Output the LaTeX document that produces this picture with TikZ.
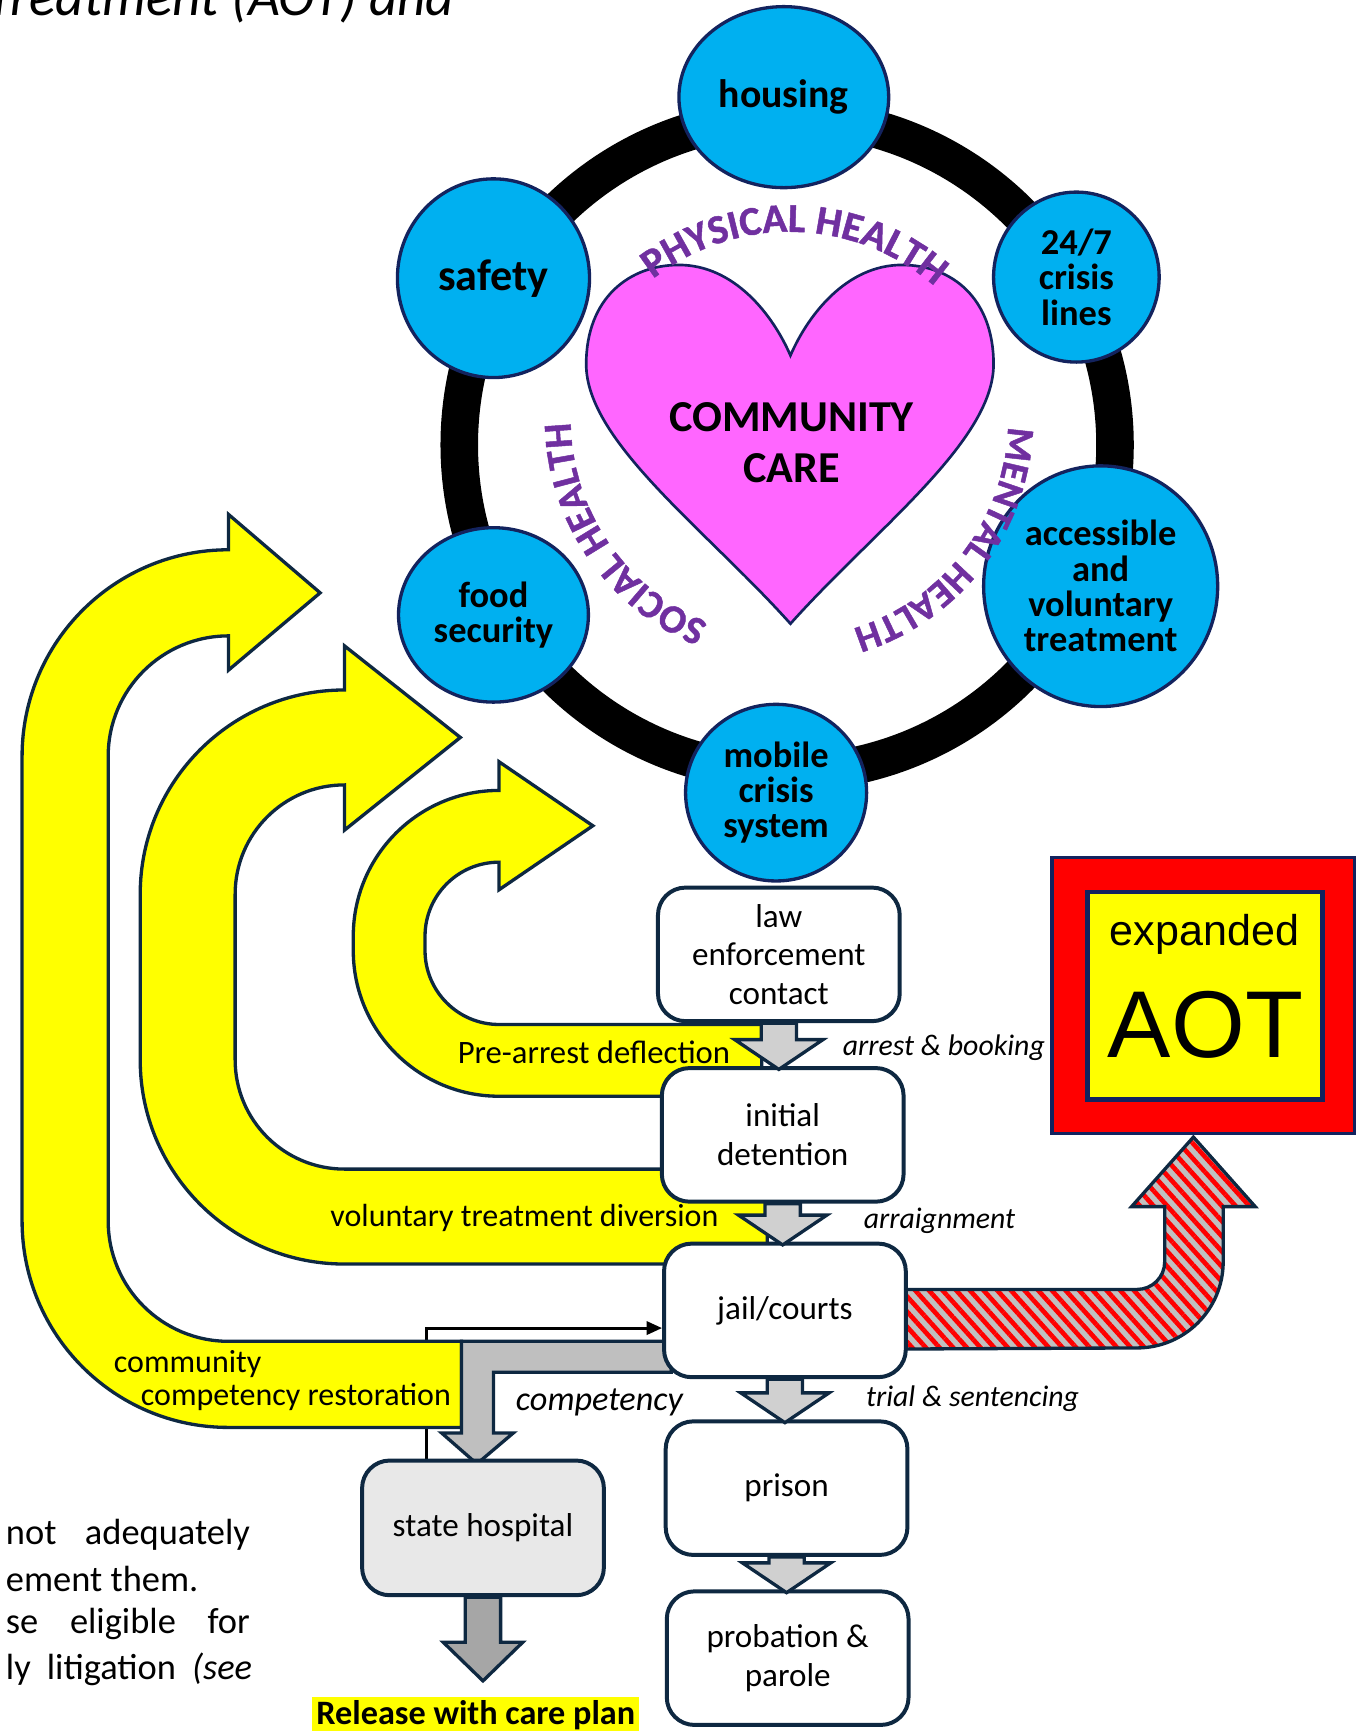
\documentclass[tikz,border=0pt]{standalone}
\usepackage{fontspec}
\setmainfont{Carlito}
\newfontfamily\arialf{Liberation Sans}
\newfontfamily\heavyf[FakeBold=1.2]{Carlito}
\usetikzlibrary{calc,shapes.geometric,decorations.text,patterns.meta,arrows.meta}
\definecolor{cyanc}{HTML}{00B0F0}
\definecolor{navyc}{HTML}{13235E}
\definecolor{boxline}{HTML}{0E2841}
\definecolor{pinkc}{HTML}{FF66FF}
\definecolor{purplec}{HTML}{7030A0}
\definecolor{yel}{HTML}{FFFF00}
\definecolor{greyA}{HTML}{D0D0D0}
\definecolor{greyB}{HTML}{BFBFBF}
\definecolor{greyC}{HTML}{A6A6A6}
\definecolor{greyD}{HTML}{E8E8E8}
\definecolor{hatchg}{HTML}{C0C0C0}
\definecolor{redc}{HTML}{FF0000}
\pgfdeclarelayer{lines}
\pgfdeclarelayer{shapes}
\pgfdeclarelayer{fg}
\pgfsetlayers{lines,shapes,main,fg}
\newcommand{\fsz}[2]{\fontsize{#1}{#2}\selectfont}
\newcommand{\garrow}[6]{%
  \draw[blockarr, fill=#3] let \p1=(#1), \p2=(#2) in
   (\x1-#4,\y1) -- (\x1-#4,\y2+#5) -- (\x1-#6,\y2+#5) -- (\x1,\y2) --
   (\x1+#6,\y2+#5) -- (\x1+#4,\y2+#5) -- (\x1+#4,\y1) -- cycle;}
\begin{document}
\begin{tikzpicture}[x=0.5pt,y=-0.5pt,
  bubble/.style={ellipse, fill=cyanc, draw=navyc, line width=1.5pt, inner sep=0pt, align=center, font=\bfseries\fsz{16.5pt}{16pt}},
  flowbox/.style={rectangle, rounded corners=12.5pt, draw=boxline, line width=1.8pt, fill=white, minimum width=109.5pt, minimum height=60.5pt, align=center, inner sep=0pt, font=\fsz{15pt}{17.5pt}},
  uarrow/.style={fill=yel, draw=boxline, line width=1.5pt},
  blockarr/.style={draw=boxline, line width=1.5pt, line join=miter},
  lbl/.style={font=\itshape\fsz{13.5pt}{16pt}, inner sep=0pt},
  ylbl/.style={font=\fsz{14.5pt}{16pt}, inner sep=0pt},
  ptext/.style={font=\fsz{16.5pt}{18pt}, inner sep=0pt, anchor=west}]
\useasboundingbox (0,0) rectangle (1229,1568);

% title fragment
\node[anchor=base east, font=\itshape\fsz{25pt}{25pt}, inner sep=0pt] (title) at (412,14) {Treatment (AOT) and};

% ring
\draw[line width=17pt] (713,403) circle[radius=297];

% bubbles
\node[bubble, minimum width=95pt, minimum height=82pt, font=\bfseries\fsz{18pt}{18pt}] (housing) at (710,88) {housing};
\node[bubble, minimum width=87pt, minimum height=90pt, font=\bfseries\fsz{20pt}{20pt}] (safety) at (447,252) {safety};
\node[bubble, minimum width=75pt, minimum height=77pt] (crisis) at (975,251) {24/7\\crisis\\lines};
\node[bubble, minimum width=86pt, minimum height=79pt] (food) at (447,557) {food\\security};
\node[bubble, minimum width=106pt, minimum height=109pt] (access) at (997,531) {accessible\\and\\voluntary\\treatment};
\node[bubble, minimum width=82pt, minimum height=80pt] (mobile) at (703,718) {mobile\\crisis\\system};

% heart
\draw[fill=pinkc, draw=navyc, line width=1.2pt]
  (716,565) .. controls (640,480) and (531,400) .. (531,330)
  .. controls (531,270) and (570,240) .. (615,240)
  .. controls (665,240) and (700,285) .. (716,322)
  .. controls (732,285) and (767,240) .. (817,240)
  .. controls (862,240) and (900,270) .. (900,330)
  .. controls (900,400) and (792,480) .. (716,565) -- cycle;
\node[font=\bfseries\fsz{20pt}{23pt}, align=center] (cc) at (717,401) {COMMUNITY\\CARE};

% curved texts
\path[decorate, decoration={text along path, text align=center, text color=purplec, text={|\heavyf\bfseries\fsz{18.5pt}{18pt}|PHYSICAL HEALTH}}]
  ($(715,410)+(-136:200)$) arc[start angle=-136, end angle=-41, radius=200];
\path[decorate, decoration={text along path, text align=center, text color=purplec, text={|\heavyf\bfseries\fsz{18pt}{18pt}|SOCIAL HEALTH}}]
  ($(715,380)+(104:198)$) arc[start angle=104, end angle=187, radius=198];
\path[decorate, decoration={text along path, text align=center, text color=purplec, text={|\heavyf\bfseries\fsz{17.5pt}{18pt}|MENTAL HEALTH}}]
  ($(715,380)+(-7:198)$) arc[start angle=-7, end angle=82, radius=198];

% flow boxes
\node[flowbox] (law) at (705.5,864.5) {law\\enforcement\\contact};
\node[flowbox] (initial) at (709,1028) {initial\\detention};
\node[flowbox] (jail) at (711,1187) {jail/courts};
\node[flowbox] (prison) at (712.5,1348) {prison};
\node[flowbox] (probation) at (713.5,1502) {probation \&\\parole};
\node[flowbox, fill=greyD, minimum height=61pt] (state) at (437.5,1384) {state hospital};
\node[fill=yel, inner sep=0pt, minimum width=148pt, minimum height=17pt, font=\bfseries\fsz{15.5pt}{16pt}] (release) at (431,1554) {Release with care plan};

% AOT
\node[rectangle, fill=redc, draw=navyc, line width=1.5pt, minimum width=137pt, minimum height=125pt, inner sep=0pt] (aotouter) at (1090,902) {};
\node[rectangle, fill=yel, draw=navyc, line width=2pt, minimum width=106.5pt, minimum height=94pt, inner sep=0pt] (aotinner) at (1091.5,902) {};
\node[font=\arialf\fsz{19.5pt}{20pt}, inner sep=0pt] (expanded) at (1091,846) {expanded};
\node[font=\arialf\fsz{43pt}{43pt}, inner sep=0pt] (aot) at (1092,928) {AOT};

% labels
\node[lbl] (lab1) at (855,949) {arrest \& booking};
\node[lbl] (lab2) at (851,1106) {arraignment};
\node[lbl] (lab3) at (881,1267) {trial \& sentencing};
\node[lbl, font=\itshape\fsz{15.5pt}{16pt}] (lab4) at (543,1270) {competency};
\node[ylbl, font=\fsz{14.8pt}{16pt}] (ylab1) at (538,953) {Pre-arrest deflection};
\node[ylbl] (ylab2) at (475,1103) {voluntary treatment diversion};
\node[ylbl] (ylab3) at (170,1236) {community};
\node[ylbl] (ylab4) at (268,1265) {competency restoration};

% paragraph fragments
\node[ptext] (p1) at (5,1390) {\makebox[110.5pt][s]{not adequately}};
\node[ptext] (p2) at (5,1430) {ement them.};
\node[ptext] (p3) at (5,1471) {\makebox[110.5pt][s]{se eligible for}};
\node[ptext] (p4) at (5,1512) {\makebox[111.5pt][s]{ly litigation \textit{(see}}};

% thin connector (behind yellow arrows)
\begin{pgfonlayer}{lines}
\draw[line width=1.3pt, -{Triangle[length=7pt,width=6pt]}] ($(state.north west)+(60,0)$) |- ($(jail.west)+(0,16)$);
\end{pgfonlayer}

% big shapes
\begin{pgfonlayer}{shapes}
% innermost U arrow
\draw[uarrow] (690,993) -- (452,993) arc[start angle=90, end angle=180, radius=132]
  -- (320,848) arc[start angle=180, end angle=270, radius=132]
  -- (452,690) -- (537,748) -- (452,806) -- (452,781)
  arc[start angle=270, end angle=180, radius=67] -- (385,861)
  arc[start angle=180, end angle=90, radius=67] -- (690,928) -- cycle;
% middle U arrow
\draw[uarrow] (695,1145) -- (312,1145) arc[start angle=90, end angle=180, radius=185]
  -- (127,810) arc[start angle=180, end angle=270, radius=185]
  -- (312,585) -- (417,668) -- (312,752) -- (312,711)
  arc[start angle=270, end angle=180, radius=99] -- (213,960)
  arc[start angle=180, end angle=90, radius=99] -- (695,1059) -- cycle;
% outer U arrow
\draw[uarrow] (418,1293) -- (207,1293) arc[start angle=90, end angle=180, radius=187]
  -- (20,685) arc[start angle=180, end angle=270, radius=187]
  -- (207,466) -- (290,537) -- (207,607) -- (207,576)
  arc[start angle=270, end angle=180, radius=109] -- (98,1106)
  arc[start angle=180, end angle=90, radius=109] -- (418,1215) -- cycle;
% competency grey L arrow
\draw[blockarr, fill=greyB] (608,1215) -- (418,1215) -- (418,1298) -- (400,1298) -- (432,1326)
  -- (465,1298) -- (447,1298) -- (447,1243) -- (608,1243) -- cycle;
% hatched arrow to AOT
\draw[blockarr, preaction={fill=hatchg}, pattern={Lines[angle=-48,distance=4.6pt,line width=2.1pt]}, pattern color=redc]
  (815,1168) -- (1030,1168) arc[start angle=90, end angle=0, radius=25]
  -- (1055,1093) -- (1025,1093) -- (1081,1030) -- (1137,1093) -- (1108,1093)
  -- (1108,1143) arc[start angle=0, end angle=90, radius=78] -- (815,1222) -- cycle;
\end{pgfonlayer}

% grey flow arrows
\begin{pgfonlayer}{fg}
\garrow{law.south}{$(initial.north)+(0,3)$}{greyA}{8pt}{13.5pt}{20pt}
\garrow{initial.south}{$(jail.north)+(0,3)$}{greyA}{8pt}{13.5pt}{20pt}
\garrow{jail.south}{$(prison.north)+(0,3)$}{greyA}{8pt}{13.5pt}{20pt}
\garrow{prison.south}{$(probation.north)+(0,3)$}{greyA}{8pt}{13.5pt}{20pt}
\garrow{state.south}{$(release.north)+(0,-14)$}{greyC}{8pt}{17.5pt}{18pt}
\end{pgfonlayer}
\end{tikzpicture}
\end{document}
